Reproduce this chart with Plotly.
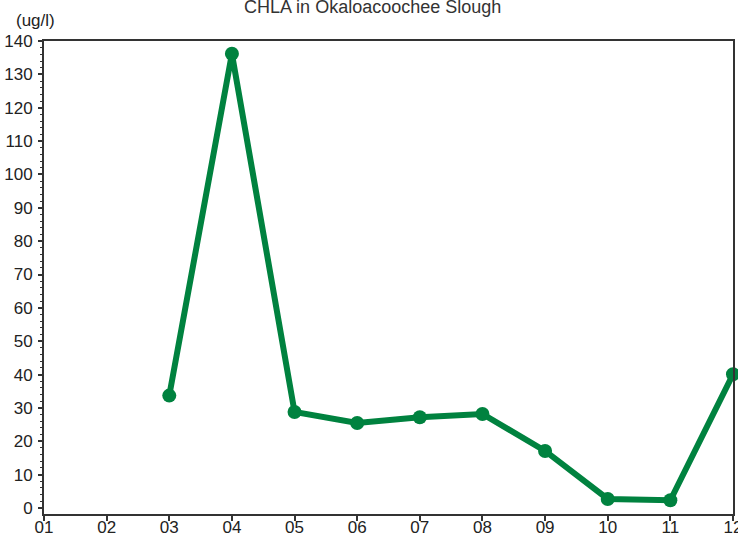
import plotly.graph_objects as go

# months sampled and chlorophyll-a readings (ug/l)
months = [3, 4, 5, 6, 7, 8, 9, 10, 11, 12]
chla = [33.7, 136.2, 28.8, 25.5, 27.2, 28.2, 17.1, 2.7, 2.3, 40.1]

tick_vals = list(range(1, 13))
tick_text = ['01', '02', '03', '04', '05', '06', '07', '08', '09', '10', '11', '12']

green = '#00823F'

fig = go.Figure()
fig.add_trace(go.Scatter(
    x=months,
    y=chla,
    mode='lines+markers',
    line=dict(color=green, width=6),
    marker=dict(color=green, size=14),
    cliponaxis=False,
    showlegend=False,
))

fig.update_layout(
    width=738, height=540,
    margin=dict(l=44, r=5, t=41, b=26, autoexpand=False),
    paper_bgcolor='white', plot_bgcolor='white',
    font=dict(family='Liberation Sans, Arial, sans-serif', size=17, color='#222'),
    title=dict(text='CHLA in Okaloacoochee Slough', x=0.505, xanchor='center',
               yref='container', y=0.987, yanchor='middle', font=dict(size=18, color='#333')),
    xaxis=dict(range=[1, 12.0001], tickvals=tick_vals, ticktext=tick_text,
               automargin=False, ticklabeloverflow='allow', ticklabelstandoff=-8,
               showgrid=False, zeroline=False, showline=True, mirror=True,
               linecolor='#333', linewidth=2, ticks='outside', ticklen=5,
               tickcolor='#333', tickwidth=1.5),
    yaxis=dict(range=[-1.8, 140], dtick=10, tick0=0, automargin=False,
               showgrid=False, zeroline=False, showline=True, mirror=True,
               linecolor='#333', linewidth=2, ticks='outside', ticklen=4,
               tickcolor='#333', tickwidth=1.5, ticklabelstandoff=2,
               minor=dict(ticks='outside', dtick=2, ticklen=2, tickcolor='#333', tickwidth=1)),
    annotations=[dict(text='(ug/l)', xref='paper', yref='paper', x=-0.012, y=1.0,
                      xanchor='center', yanchor='middle', yshift=21, showarrow=False,
                      font=dict(size=17, color='#222'))],
)

fig.write_html('out.html', config={'displayModeBar': False},
               post_script="document.body.style.margin='0';")
